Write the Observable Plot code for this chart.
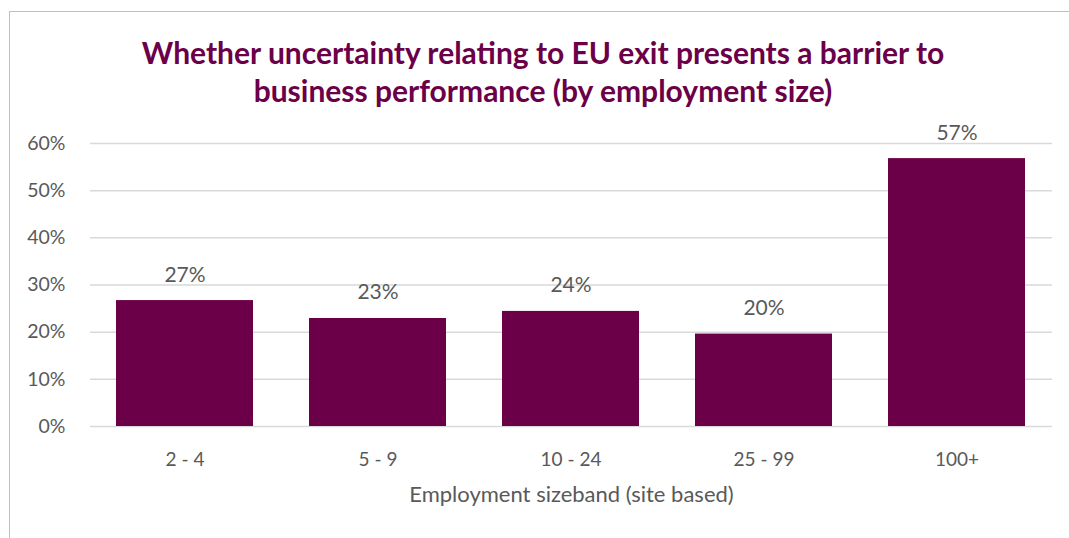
<!DOCTYPE html>
<html>
<head>
<meta charset="utf-8">
<script src="https://cdn.jsdelivr.net/npm/d3@7"></script>
<script src="https://cdn.jsdelivr.net/npm/@observablehq/plot@0.6"></script>
<style>
  html, body { margin: 0; padding: 0; background: #fff; overflow: hidden; width: 1069px; height: 538px; }
  #frame { position: absolute; left: 9px; top: 11px; width: 1100px; height: 600px; border: 1px solid #bfbfbf; box-sizing: border-box; }
  #title { position: absolute; left: 9px; top: 33px; width: 1068px; text-align: center; font-family: Lato, sans-serif; font-weight: bold; font-size: 30px; line-height: 38px; color: #6b0049; }
  #chart { position: absolute; left: 0; top: 120px; }
</style>
</head>
<body>
<div id="frame"></div>
<div id="title">Whether uncertainty relating to EU exit presents a barrier to<br>business performance (by employment size)</div>
<div id="chart"></div>
<script>
const categories = ["2 - 4", "5 - 9", "10 - 24", "25 - 99", "100+"];
const values = [26.7, 22.9, 24.4, 19.6, 56.8];
const yTicks = [0, 10, 20, 30, 40, 50, 60];
const xTitle = "Employment sizeband (site based)";

const data = categories.map((c, i) => ({category: c, value: values[i]}));
const purple = "#6b0049";
const grey = "#595959";

const chart = Plot.plot({
  width: 1069,
  height: 418,
  marginLeft: 90,
  marginRight: 17,
  marginTop: 23,
  marginBottom: 112,
  style: { fontFamily: "Lato, sans-serif", fontSize: "19px", color: grey, background: "transparent" },
  x: { domain: categories, paddingInner: 0.288, paddingOuter: 0.135, label: null },
  y: { domain: [0, 60], label: null },
  marks: [
    Plot.gridY(yTicks, { stroke: "#d9d9d9", strokeOpacity: 1, strokeWidth: 1.5 }),
    Plot.barY(data, { x: "category", y: "value", fill: purple }),
    Plot.text(data, { x: "category", y: "value", text: d => Math.round(d.value) + "%", lineAnchor: "bottom", dy: -19, fill: grey, fontSize: 21 }),
    Plot.axisY({ ticks: yTicks, tickSize: 0, tickPadding: 25, tickFormat: d => d + "%", fill: grey, fontSize: 19.5, label: null }),
    Plot.axisX({ tickSize: 0, tickPadding: 26, fill: grey, fontSize: 19, label: null }),
    Plot.text([xTitle], { frameAnchor: "bottom", dy: 60, lineAnchor: "top", fill: grey, fontSize: 22 })
  ]
});
document.getElementById("chart").appendChild(chart);
</script>
</body>
</html>
